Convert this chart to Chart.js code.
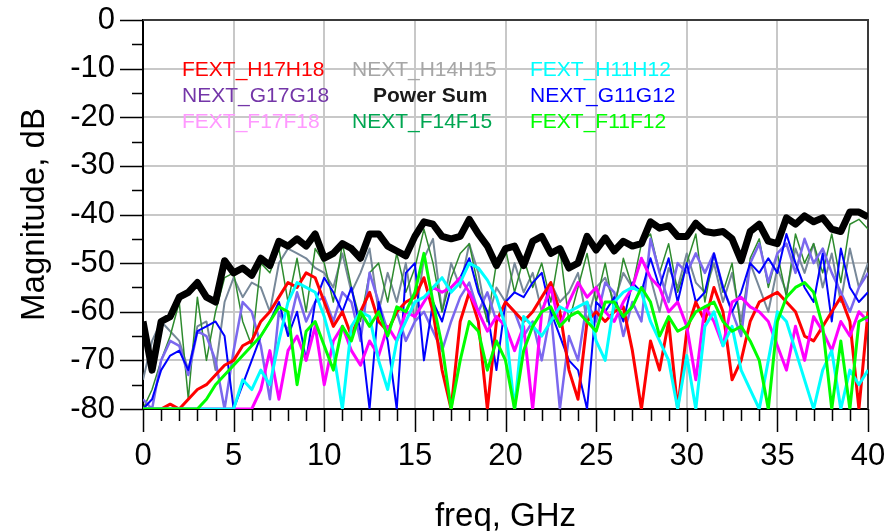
<!DOCTYPE html>
<html lang="en">
<head>
  <meta charset="UTF-8" />
  <title>Crosstalk magnitude</title>
  <script src="https://cdn.jsdelivr.net/npm/chart.js"></script>
  <style>
    body { margin: 0; background: #fff; }
    canvas { display: block; }
  </style>
</head>
<body>
<canvas id="xtalk" width="884" height="531"></canvas>
<script>
// frequency points, GHz
const freq = [
  0, 0.5, 1, 1.5, 2, 2.5, 3, 3.5, 4, 4.5,
  5, 5.5, 6, 6.5, 7, 7.5, 8, 8.5, 9, 9.5,
  10, 10.5, 11, 11.5, 12, 12.5, 13, 13.5, 14, 14.5,
  15, 15.5, 16, 16.5, 17, 17.5, 18, 18.5, 19, 19.5,
  20, 20.5, 21, 21.5, 22, 22.5, 23, 23.5, 24, 24.5,
  25, 25.5, 26, 26.5, 27, 27.5, 28, 28.5, 29, 29.5,
  30, 30.5, 31, 31.5, 32, 32.5, 33, 33.5, 34, 34.5,
  35, 35.5, 36, 36.5, 37, 37.5, 38, 38.5, 39, 39.5,
  40
];

// magnitudes, dB
const powerSum = [
  -62, -72, -62, -61, -57, -56, -54, -57, -58, -49.5,
  -52, -51, -52.5, -49, -50.5, -45.5, -46.5, -45, -46.5, -44,
  -49, -48, -46, -47, -49, -44, -44, -46.5, -47.5, -48.5,
  -44.5, -41.5, -42, -44.5, -45, -44.5, -41, -44, -46.5, -50.5,
  -47, -46.5, -50.5, -45.5, -44.5, -48, -47, -51, -50, -44.5,
  -47.3, -44.8, -47.5, -45.5, -46.5, -46, -41.5, -42.8, -42.3, -44.5,
  -44.5, -41.8, -43.5, -43.8, -43.5, -45, -49.5, -43.5, -42, -45.5,
  -46, -40.7, -42, -40.3, -41.5, -40.7, -43, -43.5, -39.5, -39.5,
  -40.5
];
const fextH17H18 = [
  -80, -80, -80, -79, -80, -78, -76, -75, -73, -71,
  -70, -67, -66, -62, -60, -57, -54, -55, -52, -53,
  -58, -63, -60, -65, -60, -56, -62, -64, -60, -58,
  -57, -53, -60, -72, -80, -62, -56, -62, -80, -62,
  -58, -60, -62, -60, -57, -54, -60, -72, -78, -62,
  -60, -62, -60, -59, -68, -80, -66, -72, -62, -80,
  -64, -58, -62, -55, -60, -74, -70, -62, -58, -57,
  -56, -58, -60, -65, -66, -63, -60, -57, -62, -80,
  -60
];
const nextG17G18 = [
  -78, -80, -70, -66, -67, -73, -64, -65, -70, -80,
  -68, -58, -60, -67, -78, -60, -64, -56, -62, -58,
  -57, -62, -56, -58, -66, -52, -58, -64, -60, -66,
  -62, -60, -64, -68, -62, -57, -54, -60, -56, -62,
  -58, -60, -65, -62, -70, -60, -80, -65, -70, -58,
  -62, -54, -56, -65, -58, -62, -45, -52, -58, -50,
  -52, -48, -52, -48, -55, -60, -65, -50, -46, -54,
  -48, -46, -52, -45, -50, -47, -52, -56, -60, -55,
  -52
];
const fextF17F18 = [
  -80, -80, -80, -80, -80, -80, -80, -80, -80, -80,
  -80, -80, -80, -76, -68, -78, -68, -65, -70, -63,
  -75, -66, -63, -68, -71, -66, -69, -63, -66, -60,
  -61, -58, -55, -56, -55, -53, -56, -60, -64, -61,
  -63, -68, -63, -80, -60, -55, -63, -58, -54, -57,
  -55, -60, -62, -58, -55, -49, -53, -55, -60, -58,
  -63, -74, -59, -62, -67, -58, -57, -59, -60, -62,
  -67, -72, -63, -70, -61, -64, -68, -62, -65, -60,
  -62
];
const nextH14H15 = [
  -74, -66, -62, -64, -66, -72, -63, -62, -72, -58,
  -53, -57, -54, -55, -60, -50, -47, -48, -49, -51,
  -52, -55, -48, -56, -52, -47, -60, -52, -58, -50,
  -62, -49, -45, -60, -50, -55, -46, -52, -62, -55,
  -58, -50, -56, -52, -60, -54, -58, -56, -52, -62,
  -55, -53, -58, -52, -55, -49, -53, -60, -51, -55,
  -48, -54, -56, -50, -58, -52, -62, -50, -55, -60,
  -51, -56, -47, -52, -46, -55, -48, -58, -47, -55,
  -50
];
const nextF14F15 = [
  -80, -76, -70, -65, -58, -78, -57, -70, -60, -53,
  -52, -62, -67, -50, -52, -47, -58, -49, -60, -47,
  -50, -58, -46, -55, -62, -52, -50, -58, -48, -56,
  -51, -43, -50, -60, -53, -48, -46, -55, -62, -50,
  -47, -56, -49, -55, -50, -58, -47, -62, -55, -48,
  -58, -50, -60, -49, -55, -46, -44, -52, -46, -56,
  -50, -44, -58, -48, -56, -50, -64, -49, -45, -55,
  -48, -57, -44, -50, -46, -52, -44, -54, -42, -41,
  -43
];
const fextH11H12 = [
  -80, -80, -80, -80, -80, -80, -80, -80, -80, -80,
  -80, -74, -76, -72, -75, -66, -58, -54, -55, -56,
  -61, -68, -80, -63, -60, -61, -70, -76, -66, -62,
  -58, -57, -55, -53, -56, -54, -50, -51, -53.5, -57,
  -63, -80, -61, -63, -65, -62, -59, -60, -59, -58,
  -66, -70, -58, -56, -55, -56, -62, -66, -70, -80,
  -69, -80, -63, -60, -67, -63, -72, -76, -80, -70,
  -60, -62, -68, -74, -80, -72, -68, -80, -72, -75,
  -72
];
const nextG11G12 = [
  -80, -78, -72, -69, -68, -72, -64, -63, -62, -65,
  -80, -75, -70, -65, -62, -58, -65, -60, -70, -58,
  -53, -56, -60, -55, -64, -80, -58, -66, -80, -52,
  -50, -70, -58, -62, -55, -53, -49, -56, -60, -72,
  -58, -56, -57, -54, -52, -60, -65, -70, -72, -80,
  -58, -60, -57, -62, -54, -56, -49, -55, -49, -58,
  -50, -58, -56, -48, -55, -60, -56, -50, -52, -49,
  -52, -44, -50, -55, -58, -48, -62, -47, -55, -58,
  -56
];
const fextF11F12 = [
  -80, -80, -80, -80, -80, -80, -80, -78, -75, -73,
  -71, -69, -67, -65, -62, -59, -60, -75, -64, -62,
  -67, -72, -63, -66, -60, -63, -60, -65, -59, -60,
  -56, -48, -58, -67, -80, -70, -62, -64, -72, -66,
  -70, -80, -68, -63, -60, -59, -63, -61, -60, -62,
  -64, -58, -58, -61, -59, -55, -58, -65, -61, -64,
  -63, -60, -59, -58, -62, -64, -63, -66, -70, -80,
  -62, -57, -55, -54, -56, -63, -80, -66, -80, -62,
  -61
];

const yTicks = [0, -10, -20, -30, -40, -50, -60, -70, -80];
const xTicks = [0, 5, 10, 15, 20, 25, 30, 35, 40];

// first one is drawn on top
const traces = [
  { label: 'Power Sum',   values: powerSum,   color: '#000000', width: 7 },
  { label: 'FEXT_F11F12', values: fextF11F12, color: '#00ff00', width: 3 },
  { label: 'FEXT_H11H12', values: fextH11H12, color: '#00ffff', width: 3 },
  { label: 'FEXT_F17F18', values: fextF17F18, color: '#ff00ff', width: 3 },
  { label: 'FEXT_H17H18', values: fextH17H18, color: '#ff0000', width: 3 },
  { label: 'NEXT_G11G12', values: nextG11G12, color: '#0000ff', width: 2 },
  { label: 'NEXT_G17G18', values: nextG17G18, color: '#7b68ee', width: 2.5 },
  { label: 'NEXT_F14F15', values: nextF14F15, color: '#2e8b2e', width: 1.5 },
  { label: 'NEXT_H14H15', values: nextH14H15, color: '#778899', width: 2 }
];

// legend text block (3 columns x 3 rows)
const legendCols = [
  [['FEXT_H17H18', '#ff0000'], ['NEXT_G17G18', '#7436a8'], ['FEXT_F17F18', '#ff99ff']],
  [['NEXT_H14H15', '#a6a6a6'], ['Power Sum', '#1a1a1a'], ['NEXT_F14F15', '#00a651']],
  [['FEXT_H11H12', '#00ffff'], ['NEXT_G11G12', '#0000ff'], ['FEXT_F11F12', '#00ff00']]
];

const textLegend = {
  id: 'textLegend',
  afterDraw(chart) {
    const { ctx, chartArea: a } = chart;
    const colX = [39, 209, 387];
    const rowY = [50, 76, 102];
    ctx.save();
    ctx.textBaseline = 'middle';
    ctx.textAlign = 'left';
    legendCols.forEach((col, c) => {
      col.forEach(([txt, color], r) => {
        const bold = txt === 'Power Sum';
        ctx.font = (bold ? 'bold ' : '') + '21px "Liberation Sans", Arial, sans-serif';
        ctx.fillStyle = color;
        ctx.fillText(txt, a.left + colX[c] + (bold ? 21 : 0), a.top + rowY[r]);
      });
    });
    ctx.restore();
  }
};

// outward ticks (long major, short minor) and the top/right frame
const frameTicks = {
  id: 'frameTicks',
  beforeDatasetsDraw(chart) {
    const { ctx, chartArea: a, scales: { x, y } } = chart;
    ctx.save();
    ctx.strokeStyle = '#000';
    ctx.lineWidth = 1.5;
    ctx.beginPath();
    for (let v = -80; v <= 0; v += 5) {
      const py = Math.round(y.getPixelForValue(v)) + 0.5;
      const len = v % 10 === 0 ? 23 : 11;
      ctx.moveTo(a.left - len, py);
      ctx.lineTo(a.left, py);
    }
    for (let v = 0; v <= 40; v += 1) {
      const px = Math.round(x.getPixelForValue(v)) + 0.5;
      const len = v % 5 === 0 ? 23 : 12;
      ctx.moveTo(px, a.bottom);
      ctx.lineTo(px, a.bottom + len);
    }
    ctx.stroke();
    ctx.strokeStyle = '#3a3a3a';
    ctx.lineWidth = 2;
    ctx.beginPath();
    ctx.moveTo(a.left, a.top);
    ctx.lineTo(a.right, a.top);
    ctx.lineTo(a.right, a.bottom);
    ctx.stroke();
    ctx.restore();
  }
};

const tickFont = { family: '"Liberation Sans", Arial, sans-serif', size: 31 };
const titleFont = { family: '"Liberation Sans", Arial, sans-serif', size: 33 };

new Chart(document.getElementById('xtalk'), {
  type: 'line',
  data: {
    datasets: traces.map(t => ({
      label: t.label,
      data: freq.map((f, i) => ({ x: f, y: t.values[i] })),
      borderColor: t.color,
      borderWidth: t.width,
      borderJoinStyle: 'round',
      pointRadius: 0,
      tension: 0,
      fill: false
    }))
  },
  options: {
    responsive: false,
    animation: false,
    layout: { padding: { top: 20, right: 16, left: 0, bottom: 0 } },
    plugins: { legend: { display: false }, tooltip: { enabled: false } },
    scales: {
      x: {
        type: 'linear',
        min: 0,
        max: 40,
        afterFit(scale) {
          scale.height = 122;
          scale.paddingLeft = 0;
          scale.paddingRight = 0;
        },
        ticks: {
          stepSize: 1,
          autoSkip: false,
          maxRotation: 0,
          padding: 29,
          color: '#000',
          font: tickFont,
          callback: v => xTicks.includes(v) ? String(v) : ''
        },
        grid: {
          drawTicks: false,
          lineWidth: 2,
          color: ctx => xTicks.includes(ctx.tick.value) ? '#c8c8c8' : 'rgba(0,0,0,0)'
        },
        border: { color: '#000', width: 2 },
        title: {
          display: true,
          text: 'freq, GHz',
          color: '#000',
          font: titleFont,
          padding: { top: 0, bottom: -6 }
        }
      },
      y: {
        min: -80,
        max: 0,
        afterFit(scale) {
          scale.width = 143;
          scale.paddingTop = 0;
          scale.paddingBottom = 0;
        },
        ticks: {
          stepSize: 5,
          autoSkip: false,
          padding: 28,
          color: '#000',
          font: tickFont,
          callback: v => yTicks.includes(v) ? String(v) : ''
        },
        grid: {
          drawTicks: false,
          lineWidth: 2,
          color: ctx => yTicks.includes(ctx.tick.value) ? '#c8c8c8' : 'rgba(0,0,0,0)'
        },
        border: { color: '#000', width: 2 },
        title: {
          display: true,
          text: 'Magnitude, dB',
          color: '#000',
          font: titleFont,
          padding: { top: 15, bottom: 0 }
        }
      }
    }
  },
  plugins: [frameTicks, textLegend]
});
</script>
</body>
</html>
